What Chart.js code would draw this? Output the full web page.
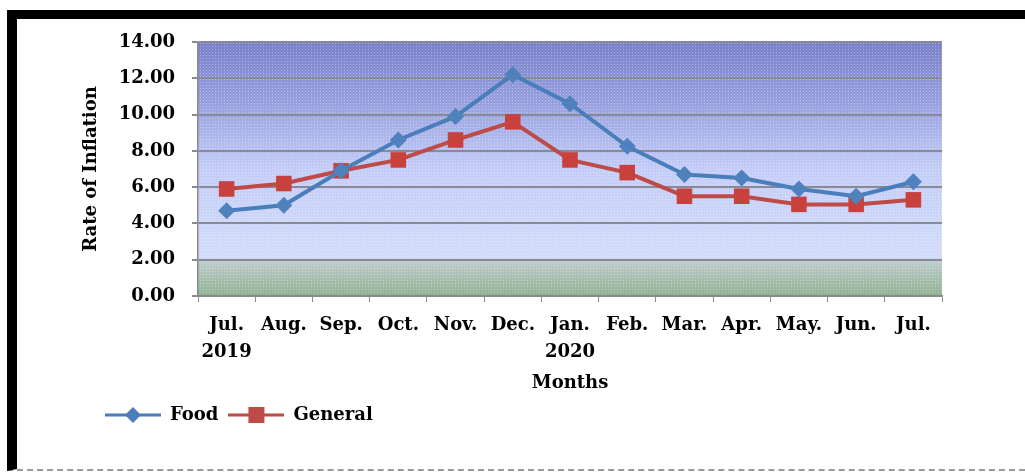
<!DOCTYPE html>
<html>
<head>
<meta charset="utf-8">
<script src="https://cdn.jsdelivr.net/npm/chart.js@4/dist/chart.umd.min.js"></script>
<style>
  body { margin: 0; background: #fff; }
  #frame {
    position: absolute; left: 7px; top: 10px;
    width: 1008px; height: 450px;
    border-top: 9px solid #000;
    border-left: 10px solid #000;
    border-bottom: 2px dashed #9a9a9a;
  }
</style>
</head>
<body>
<div id="frame"><canvas id="myChart" width="1008" height="450"></canvas></div>
<script>
// data
var months = ['Jul.', 'Aug.', 'Sep.', 'Oct.', 'Nov.', 'Dec.', 'Jan.', 'Feb.', 'Mar.', 'Apr.', 'May.', 'Jun.', 'Jul.'];
var years = ['2019', '', '', '', '', '', '2020', '', '', '', '', '', ''];
var food = [4.7, 5.0, 6.9, 8.6, 9.9, 12.2, 10.6, 8.25, 6.7, 6.5, 5.9, 5.5, 6.3];
var general = [5.9, 6.2, 6.9, 7.5, 8.6, 9.6, 7.5, 6.8, 5.5, 5.5, 5.05, 5.05, 5.3];

var labels = months.map(function (m, i) { return years[i] ? [m, years[i]] : m; });

var FONT = 'DejaVu Serif';
var blue = '#4a7ebb', red = '#be4b48';

// little line + marker pictures for the legend
function legendImg(color, style) {
    var c = document.createElement('canvas');
    c.width = 56; c.height = 20;
    var g = c.getContext('2d');
    g.strokeStyle = color; g.lineWidth = 3;
    g.beginPath(); g.moveTo(0, 10); g.lineTo(56, 10); g.stroke();
    g.fillStyle = color;
    g.beginPath();
    if (style === 'diamond') {
        g.moveTo(28, 2); g.lineTo(36, 10); g.lineTo(28, 18); g.lineTo(20, 10);
    } else {
        g.rect(20, 2, 16, 16);
    }
    g.fill();
    return c;
}
var legendPics = [legendImg(blue, 'diamond'), legendImg(red, 'square')];

// dotted texture like the original
var dots = document.createElement('canvas');
dots.width = 3; dots.height = 3;
var dg = dots.getContext('2d');
dg.fillStyle = 'rgba(255,255,255,0.35)';
dg.fillRect(0, 0, 1, 1);

var plotBg = {
    id: 'plotBg',
    beforeDraw: function (chart) {
        var a = chart.chartArea, ctx = chart.ctx;
        var gr = ctx.createLinearGradient(0, a.top, 0, a.bottom);
        gr.addColorStop(0, '#7a81ca');
        gr.addColorStop(0.25, '#9aa3e0');
        gr.addColorStop(0.5, '#c3cdf7');
        gr.addColorStop(0.85, '#d3ddfa');
        gr.addColorStop(0.86, '#bfcccf');
        gr.addColorStop(1, '#8fb290');
        ctx.save();
        ctx.fillStyle = gr;
        ctx.fillRect(a.left, a.top, a.right - a.left, a.bottom - a.top);
        ctx.fillStyle = ctx.createPattern(dots, 'repeat');
        ctx.fillRect(a.left, a.top, a.right - a.left, a.bottom - a.top);
        ctx.restore();
    }
};

var ctx = document.getElementById('myChart').getContext('2d');
var myChart = new Chart(ctx, {
    type: 'line',
    data: {
        labels: labels,
        datasets: [{
            label: 'Food',
            data: food,
            borderColor: blue,
            backgroundColor: '#4f81bd',
            borderWidth: 4,
            pointStyle: 'rectRot',
            pointRadius: 8.5,
            pointBorderWidth: 0,
            tension: 0
        },
        {
            label: 'General',
            data: general,
            borderColor: red,
            backgroundColor: '#c8413d',
            borderWidth: 4,
            pointStyle: 'rect',
            pointRadius: 11,
            pointBorderWidth: 0,
            tension: 0
        }]
    },
    options: {
        responsive: false,
        animation: false,
        layout: {
            padding: { left: 78, right: 83, top: 23, bottom: 35 }
        },
        plugins: {
            legend: {
                position: 'bottom',
                align: 'start',
                labels: {
                    usePointStyle: true,
                    pointStyleWidth: 56,
                    color: '#000',
                    font: { family: FONT, weight: 'bold', size: 18 },
                    padding: 10,
                    generateLabels: function (chart) {
                        var items = Chart.defaults.plugins.legend.labels.generateLabels(chart);
                        items.forEach(function (it, i) { it.pointStyle = legendPics[i]; });
                        return items;
                    }
                }
            },
            tooltip: { enabled: false }
        },
        scales: {
            x: {
                offset: true,
                grid: { offset: true, drawOnChartArea: false, color: '#8a8a8a', tickLength: 6 },
                border: { color: '#8a8a8a', width: 1.5 },
                ticks: {
                    color: '#000',
                    padding: 10,
                    maxRotation: 0,
                    autoSkip: false,
                    font: { family: FONT, weight: 'bold', size: 18, lineHeight: 1.5 }
                },
                title: {
                    display: true,
                    text: 'Months',
                    color: '#000',
                    padding: { top: 2, bottom: 2 },
                    font: { family: FONT, weight: 'bold', size: 18 }
                },
                afterFit: function (s) { s.height = 100; }
            },
            y: {
                min: 0,
                max: 14,
                ticks: {
                    stepSize: 2,
                    color: '#000',
                    padding: 17,
                    font: { family: FONT, weight: 'bold', size: 18, lineHeight: 0.6 },
                    callback: function (v) { return v.toFixed(2); }
                },
                grid: { color: '#8a8a96', lineWidth: 2, tickLength: 6 },
                border: { color: '#8a8a8a', width: 1.5 },
                title: {
                    display: true,
                    text: 'Rate of Inflation',
                    color: '#000',
                    padding: { top: -14, bottom: 0 },
                    font: { family: FONT, weight: 'bold', size: 18 }
                },
                afterFit: function (s) { s.width = 103; }
            }
        }
    },
    plugins: [plotBg]
});
</script>
</body>
</html>
